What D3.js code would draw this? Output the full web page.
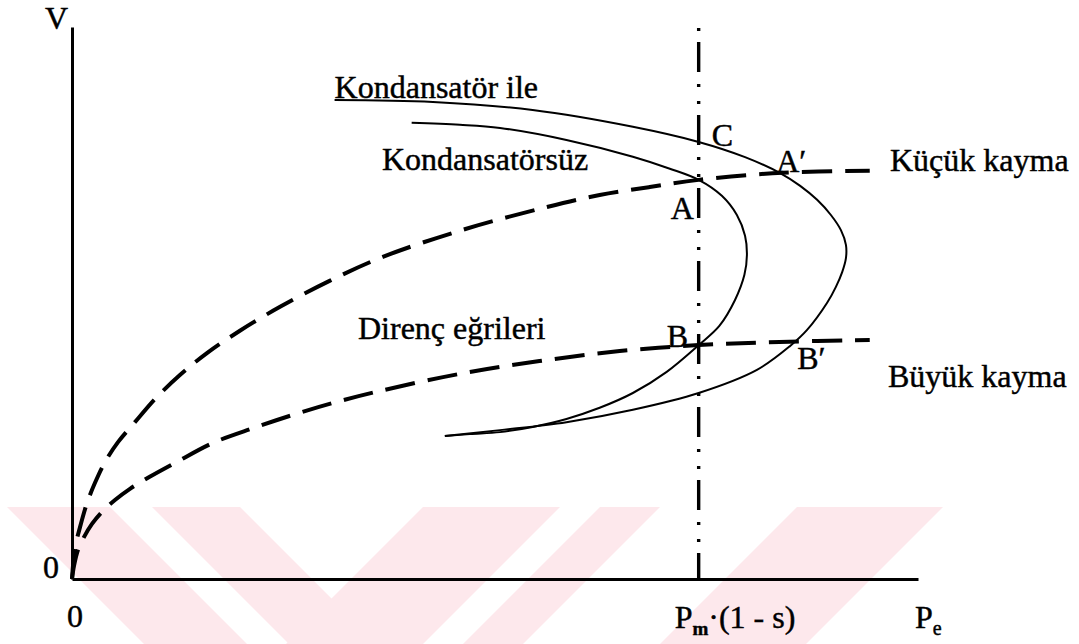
<!DOCTYPE html>
<html>
<head>
<meta charset="utf-8">
<script src="https://cdn.jsdelivr.net/npm/d3@7"></script>
<style>
  html, body { margin: 0; padding: 0; background: #ffffff; }
  svg { display: block; }
  text.lbl { font-family: "Liberation Serif", "Times New Roman", serif; fill: #000; stroke: #000; stroke-width: 0.45px; }
</style>
</head>
<body>
<svg id="chart" width="1079" height="644"></svg>
<script>
// Resistance (load) curves: V against P_e for small and large slip
const smallSlipCurve = [
  [0, 0], [0.0048, 0.078], [0.0128, 0.130], [0.0239, 0.190], [0.0367, 0.241],
  [0.0526, 0.293], [0.0734, 0.343], [0.1005, 0.393], [0.1324, 0.451], [0.1722, 0.511],
  [0.2153, 0.566], [0.2679, 0.622], [0.332, 0.682], [0.411, 0.747], [0.496, 0.807],
  [0.624, 0.875], [0.758, 0.932], [0.842, 0.962], [0.922, 0.982], [1.0, 1.0],
  [1.134, 1.018], [1.273, 1.023]
];
const largeSlipCurve = [
  [0, 0], [0.0032, 0.033], [0.0096, 0.073], [0.0191, 0.105], [0.0319, 0.138],
  [0.0478, 0.168], [0.0686, 0.198], [0.0925, 0.226], [0.124, 0.256], [0.167, 0.293],
  [0.225, 0.341], [0.289, 0.378], [0.352, 0.411], [0.416, 0.441], [0.491, 0.471],
  [0.619, 0.514], [0.746, 0.546], [0.874, 0.571], [1.0, 0.586], [1.129, 0.594], [1.273, 0.599]
];
// Generator P-V characteristics, without and with the capacitor
const withoutCapacitor = [
  [0.542, 1.143], [0.619, 1.138], [0.683, 1.130], [0.789, 1.100], [0.895, 1.058],
  [0.954, 1.028], [1.0, 1.0], [1.037, 0.960], [1.061, 0.912], [1.074, 0.860],
  [1.077, 0.812], [1.073, 0.762], [1.058, 0.699], [1.033, 0.634], [1.0, 0.586],
  [0.949, 0.519], [0.895, 0.466], [0.842, 0.429], [0.789, 0.401], [0.735, 0.381],
  [0.683, 0.368], [0.635, 0.363], [0.595, 0.358]
];
const withCapacitor = [
  [0.419, 1.200], [0.576, 1.195], [0.735, 1.175], [0.895, 1.133], [1.0, 1.095],
  [1.074, 1.057], [1.130, 1.017], [1.162, 0.985], [1.189, 0.950], [1.211, 0.912],
  [1.227, 0.874], [1.235, 0.837], [1.235, 0.804], [1.229, 0.769], [1.219, 0.732],
  [1.205, 0.692], [1.173, 0.624], [1.146, 0.584], [1.093, 0.524], [1.0, 0.466],
  [0.895, 0.424], [0.789, 0.393], [0.683, 0.373], [0.595, 0.358]
];
// Mechanical power line P_m.(1-s)
const mechanicalPower = 1.0;
const axisMax = { p: 1.35, v: 1.383 };
const axisTitles = { v: "V", p: "P", pSub: "e" };
const zeroLabel = "0";

const svg = d3.select("#chart");

// faint chevron watermark along the bottom
const wmTop = 507, wmBottom = 644, wmRise = wmBottom - wmTop;
const wmBands = [
  { from: 7, to: 110, dir: 1 }, { from: 152, to: 240, dir: 1 },
  { from: 423, to: 560, dir: -1 }, { from: 600, to: 660, dir: -1 },
  { from: 797, to: 943, dir: -1 }
];
svg.append("g").attr("fill", "#fde8ec")
  .selectAll("path").data(wmBands).join("path")
  .attr("d", b => `M${b.from},${wmTop} L${b.to},${wmTop} L${b.to + b.dir * wmRise},${wmBottom} L${b.from + b.dir * wmRise},${wmBottom} Z`);

const x = d3.scaleLinear().domain([0, axisMax.p]).range([72, 918]);
const y = d3.scaleLinear().domain([0, axisMax.v]).range([579, 27]);

// axes without ticks
svg.append("g").attr("transform", `translate(0,${y(0)})`)
  .call(d3.axisBottom(x).tickValues([]).tickSizeOuter(0))
  .call(g => g.select(".domain").attr("stroke", "#000").attr("stroke-width", 3));
svg.append("g").attr("transform", `translate(${x(0)},0)`)
  .call(d3.axisLeft(y).tickValues([]).tickSizeOuter(0))
  .call(g => g.select(".domain").attr("stroke", "#000").attr("stroke-width", 3));

// vertical dash-dot line at P_m.(1-s)
svg.append("line")
  .attr("x1", x(mechanicalPower)).attr("x2", x(mechanicalPower))
  .attr("y1", y(axisMax.v) + 1).attr("y2", y(0))
  .attr("stroke", "#000").attr("stroke-width", 3.4)
  .attr("stroke-dasharray", "3,11,30,12,3,14");

const smooth = d3.line().x(d => x(d[0])).y(d => y(d[1])).curve(d3.curveCatmullRom.alpha(0.5));

// dashed resistance curves
[smallSlipCurve, largeSlipCurve].forEach(c => {
  svg.append("path").attr("d", smooth(c))
    .attr("fill", "none").attr("stroke", "#000").attr("stroke-width", 4)
    .attr("stroke-dasharray", "30,13");
});
// solid P-V curves
[withoutCapacitor, withCapacitor].forEach(c => {
  svg.append("path").attr("d", smooth(c))
    .attr("fill", "none").attr("stroke", "#000").attr("stroke-width", 2);
});

const fs = 32;
function label(txt, px, py, size) {
  return svg.append("text").attr("class", "lbl").attr("x", px).attr("y", py)
    .attr("font-size", size || fs).text(txt);
}

// axis titles and origin labels
label(axisTitles.v, x(0) - 27, y(axisMax.v) + 2);
label(zeroLabel, x(0) - 29, y(0) - 1);
label(zeroLabel, x(0) - 5, y(0) + 48);

const pm = svg.append("text").attr("class", "lbl").attr("x", x(mechanicalPower) - 24).attr("y", y(0) + 49).attr("font-size", fs);
pm.append("tspan").text("P");
pm.append("tspan").attr("font-size", 19).attr("dy", 7).attr("font-weight", "bold").text("m");
pm.append("tspan").attr("dy", -7).text("\u00b7(1 - s)");

const pe = svg.append("text").attr("class", "lbl").attr("x", x(axisMax.p) - 3).attr("y", y(0) + 49).attr("font-size", fs);
pe.append("tspan").text(axisTitles.p);
pe.append("tspan").attr("font-size", 20).attr("dy", 7).text(axisTitles.pSub);

// curve names
label("Kondansatör ile", x(withCapacitor[0][0]), y(withCapacitor[0][1]) - 2);
label("Kondansatörsüz", 382, 170);
label("Direnç eğrileri", 358, 339);
label("Küçük kayma", 890, 171);
label("Büyük kayma", 888, 387);

// operating points
label("A", x(1.0) - 28, y(1.0) + 39);
label("C", x(mechanicalPower) + 13, y(withCapacitor[4][1]) + 4);
label("A\u2032", x(1.13) - 4, y(1.017) - 1);
label("B", x(1.0) - 32, y(0.586) + 2);
label("B\u2032", x(1.146) + 7, y(0.594) + 27);
</script>
</body>
</html>
